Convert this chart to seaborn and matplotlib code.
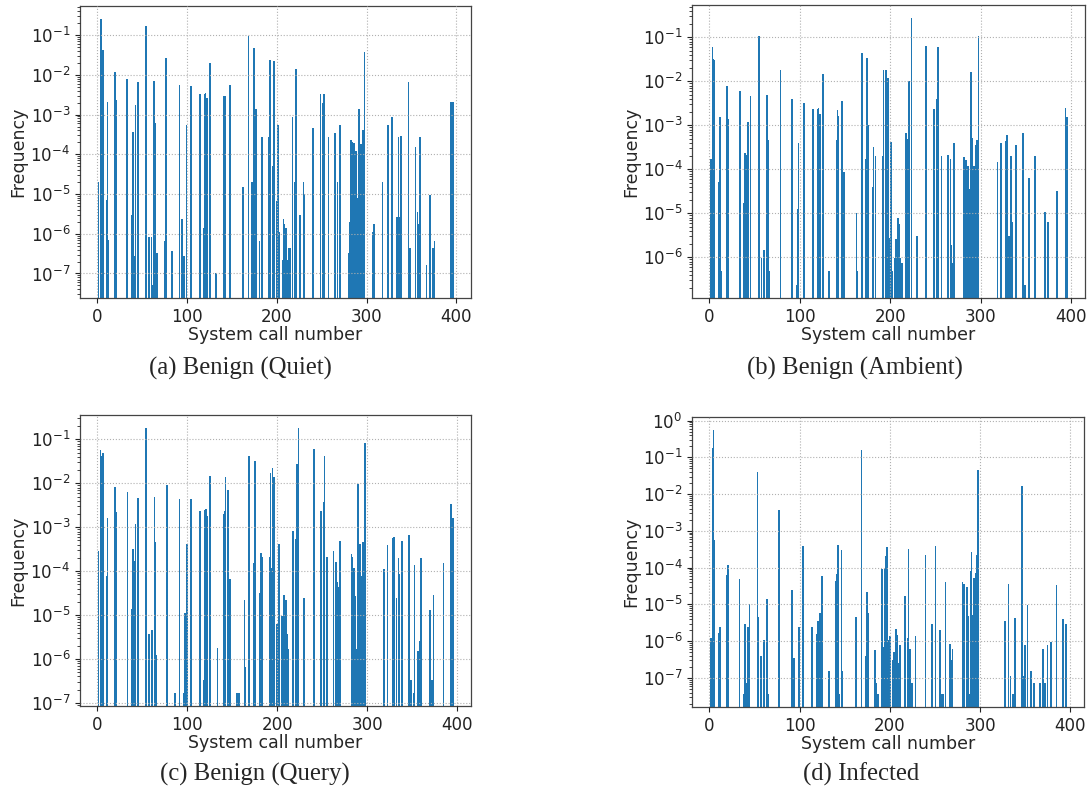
import pandas as pd
import seaborn as sns
import matplotlib.pyplot as plt

# (system call number, frequency)
quiet = [(1, 2e-5), (3, 0.11), (4, 0.25), (5, 0.019), (6, 0.042), (10, 7e-6), (11, 2.1e-3), (12, 7e-7),
         (19, 0.0115), (20, 2.3e-3), (33, 8e-3), (38, 3e-6), (39, 3.7e-4), (41, 2.7e-7), (42, 1.7e-3),
         (45, 6.5e-3), (54, 0.17), (57, 8.5e-7), (60, 8.5e-7), (61, 5.2e-8), (63, 6.9e-3), (64, 6.3e-4),
         (65, 1e-7), (66, 3.3e-7), (75, 6.5e-7), (76, 0.026), (83, 3.6e-7), (91, 5.5e-3), (94, 2.3e-6),
         (96, 2.7e-7), (99, 5.6e-4), (104, 5.2e-3), (114, 3.2e-3), (118, 1.4e-6), (119, 3.2e-3),
         (120, 3.4e-3), (122, 2.6e-3), (125, 0.0196), (132, 1e-7), (140, 5.9e-4), (141, 3e-3), (142, 3e-3),
         (147, 5.4e-3), (162, 1.5e-5), (168, 0.095), (172, 2e-5), (174, 0.048), (176, 1.4e-3), (180, 6.5e-7),
         (183, 2.8e-4), (191, 2.8e-4), (192, 0.023), (195, 5e-5), (196, 0.022), (197, 0.0147), (199, 6.5e-6),
         (200, 8.7e-7), (201, 5.6e-4), (202, 1.1e-6), (206, 2.2e-7), (207, 2.3e-6), (208, 1.8e-6),
         (209, 2.2e-7), (210, 1.4e-6), (211, 2.2e-7), (213, 4.3e-7), (214, 4.3e-7), (217, 8.7e-4),
         (220, 2e-5), (221, 0.014), (225, 3e-6), (229, 2e-5), (230, 1e-5), (240, 4.7e-4), (248, 3.2e-3),
         (251, 2e-3), (252, 3.2e-3), (257, 2.8e-4), (264, 3.5e-4), (267, 2e-5), (270, 5.6e-4),
         (280, 3.3e-7), (281, 2e-6), (282, 2.3e-4), (283, 2e-4), (284, 1.6e-7), (285, 1.9e-4), (286, 1.4e-5),
         (287, 4.3e-7), (288, 1.2e-4), (289, 8e-6), (291, 1.4e-3), (292, 3.2e-6), (293, 1.8e-4),
         (294, 1.25e-4), (295, 4e-4), (297, 0.037), (306, 1.1e-6), (307, 1.1e-6), (308, 1.75e-6),
         (317, 2e-5), (323, 5.6e-4), (327, 5.6e-4), (328, 8.5e-4), (333, 2.6e-6), (335, 2.8e-4),
         (336, 2.6e-6), (338, 2.9e-4), (346, 6.5e-3), (348, 4.3e-7), (354, 1.5e-4), (356, 3.5e-6),
         (358, 1.8e-6), (359, 2.8e-4), (366, 1.6e-7), (370, 9.5e-6), (373, 4.3e-7), (375, 6.5e-7),
         (393, 2.1e-3), (396, 2.1e-3)]

ambient = [(1, 1.7e-4), (3, 0.059), (4, 0.033), (5, 0.030), (10, 5.2e-5), (11, 1.55e-3), (12, 4.8e-7),
           (19, 7.9e-3), (20, 1.4e-3), (33, 5.9e-3), (38, 1.7e-5), (39, 2.3e-4), (41, 2.1e-4), (42, 1.2e-3),
           (45, 4.7e-3), (54, 0.105), (57, 9.6e-7), (60, 1.45e-6), (63, 5e-3), (64, 4.6e-4), (65, 4.8e-7),
           (66, 2.4e-7), (78, 0.0177), (91, 4e-3), (96, 2.4e-7), (97, 1.26e-5), (98, 4e-4), (104, 3.3e-3),
           (114, 2.4e-3), (119, 2.4e-3), (120, 2.5e-3), (122, 1.8e-3), (125, 0.0144), (132, 4.8e-7),
           (140, 4.6e-4), (141, 2.2e-3), (142, 1.65e-3), (146, 3.6e-3), (147, 4.8e-7), (148, 8.8e-5),
           (162, 1e-5), (163, 4.8e-7), (168, 0.044), (172, 1.7e-4), (173, 9.6e-7), (174, 0.034), (175, 1e-3),
           (180, 4e-5), (181, 3.2e-4), (183, 2e-4), (191, 2e-4), (192, 0.0177), (194, 8.8e-5), (195, 0.0177),
           (196, 4.6e-4), (197, 0.0117), (199, 2.8e-6), (200, 4.2e-4), (201, 4.8e-7), (205, 9.6e-7),
           (206, 2.6e-6), (208, 7.9e-6), (209, 5.8e-6), (210, 9.6e-7), (212, 7.4e-7), (213, 7.4e-7),
           (217, 6.7e-4), (219, 4.9e-4), (220, 0.0104), (223, 0.27), (229, 3e-6), (239, 0.063),
           (248, 2.4e-3), (251, 4e-3), (252, 0.060), (256, 2e-4), (263, 2.1e-4), (266, 1.7e-4),
           (267, 1.9e-6), (268, 7.4e-7), (270, 4e-4), (281, 1.9e-4), (282, 8.3e-6), (283, 1.6e-4),
           (285, 1.2e-4), (286, 3.6e-5), (288, 4.8e-7), (289, 0.016), (290, 5.1e-4), (291, 9.5e-5),
           (292, 1.2e-4), (293, 5.9e-5), (294, 3.6e-4), (295, 4.6e-4), (297, 0.11), (318, 1.5e-4),
           (322, 4e-4), (327, 4.4e-4), (328, 6e-4), (331, 3e-6), (333, 2e-4), (334, 6.4e-6), (338, 3.6e-4),
           (346, 6.7e-4), (348, 2.4e-7), (353, 6.5e-5), (359, 2e-4), (370, 1.1e-5), (373, 2.4e-7),
           (374, 6.4e-6), (384, 3.3e-5), (393, 2.5e-3), (395, 1.55e-3)]

query = [(1, 2.9e-4), (3, 0.059), (4, 0.043), (5, 0.039), (6, 0.048), (10, 7.7e-5), (11, 1.6e-3),
         (19, 8.3e-3), (20, 2.2e-3), (33, 6.4e-3), (38, 1.4e-5), (39, 3.2e-4), (41, 1.7e-4), (42, 1.2e-3),
         (45, 4.7e-3), (54, 0.18), (57, 3.8e-6), (60, 4.5e-6), (63, 4.9e-3), (64, 4.6e-4), (65, 1.2e-6),
         (77, 9.3e-3), (86, 1.7e-7), (91, 4.3e-3), (96, 1.7e-7), (97, 1.1e-5), (99, 4.2e-4), (104, 4.5e-3),
         (114, 2.4e-3), (118, 3.4e-7), (119, 2.5e-3), (120, 2.6e-3), (122, 1.8e-3), (125, 0.015),
         (133, 1.8e-6), (140, 2e-3), (141, 2.4e-3), (142, 0.014), (145, 7.1e-3), (146, 1.8e-6),
         (147, 6.6e-5), (155, 1.7e-7), (157, 1.7e-7), (163, 2.2e-5), (164, 6.6e-7), (168, 0.041),
         (173, 1.5e-4), (174, 2.6e-6), (175, 0.033), (180, 3.1e-5), (181, 2.6e-4), (183, 2.1e-4),
         (191, 2.1e-4), (192, 0.0175), (193, 1.2e-4), (194, 0.022), (195, 4.9e-4), (196, 0.014),
         (199, 6.2e-6), (200, 1.8e-6), (201, 4.2e-4), (202, 1.8e-6), (204, 3.8e-6), (205, 9.3e-6),
         (207, 2.9e-5), (208, 3.8e-6), (209, 2.2e-5), (210, 3.8e-6), (212, 1.7e-6), (217, 8.3e-4),
         (220, 5.4e-4), (221, 0.027), (223, 0.18), (229, 2.5e-5), (240, 0.062), (248, 2.4e-3),
         (251, 3.8e-3), (252, 0.041), (255, 2.1e-4), (262, 2.9e-4), (265, 1.6e-4), (266, 5.6e-5),
         (267, 4.3e-5), (269, 4.9e-4), (282, 2.4e-4), (283, 2.1e-4), (285, 1.2e-4), (286, 2.7e-5),
         (288, 1.7e-6), (289, 0.0099), (290, 1e-5), (291, 4.2e-4), (292, 1.2e-4), (293, 7.7e-5),
         (294, 3.4e-4), (295, 4.6e-4), (297, 0.081), (318, 1.1e-4), (322, 4e-4), (328, 5.7e-4),
         (329, 6e-4), (332, 2.5e-5), (334, 2e-4), (335, 8.5e-5), (338, 4.9e-4), (346, 6.6e-4),
         (348, 3.4e-7), (351, 1.7e-7), (352, 1.4e-4), (356, 1.55e-6), (358, 2.6e-6), (359, 2e-4),
         (369, 1.3e-5), (371, 3.4e-7), (373, 2.8e-5), (384, 1.5e-4), (392, 3.4e-3), (395, 1.6e-3)]

infected = [(1, 1.2e-6), (3, 0.18), (4, 0.55), (5, 5.8e-4), (10, 1.7e-6), (11, 2.5e-6), (12, 7.5e-8),
            (19, 6.3e-5), (20, 1.2e-4), (33, 4.9e-5), (38, 3.7e-8), (39, 2.9e-6), (40, 7.5e-8), (42, 2.5e-6),
            (44, 1e-5), (53, 0.039), (54, 4.5e-6), (57, 3.9e-7), (60, 1.1e-6), (63, 1.4e-5), (65, 3.7e-8),
            (77, 3.8e-3), (91, 2.5e-5), (93, 3.4e-7), (99, 2.5e-6), (103, 4e-4), (113, 2.4e-6),
            (119, 1.55e-6), (120, 3.5e-6), (122, 5.8e-6), (124, 6e-5), (132, 1.5e-7), (140, 4.4e-5),
            (141, 6.8e-5), (142, 4.2e-4), (143, 3.7e-8), (146, 3.1e-4), (147, 1.5e-7), (162, 4.5e-6),
            (168, 0.16), (173, 3.9e-7), (174, 2.2e-5), (175, 5.8e-6), (183, 5.6e-7), (184, 7.5e-8),
            (186, 3.7e-8), (191, 9.3e-5), (193, 6.8e-7), (194, 1e-4), (195, 2.1e-4), (196, 3.7e-4),
            (198, 1.1e-6), (199, 3e-7), (200, 1.35e-6), (203, 3e-7), (204, 5e-7), (205, 3e-7), (206, 2.1e-6),
            (207, 2.6e-7), (208, 1.45e-6), (209, 2.6e-7), (210, 3.7e-8), (211, 7.7e-7), (216, 1.7e-5),
            (219, 1.2e-6), (220, 3.3e-4), (222, 6e-7), (224, 7.5e-8), (228, 1.35e-6), (239, 2.2e-4),
            (246, 2.9e-6), (250, 4e-4), (255, 2e-6), (256, 3.7e-8), (257, 3.7e-8), (259, 3.7e-8),
            (261, 4.1e-5), (266, 8.2e-7), (267, 3e-7), (269, 6e-7), (280, 4.1e-5), (281, 2.2e-7),
            (282, 3.6e-5), (285, 3e-5), (286, 4.8e-6), (288, 3.7e-8), (289, 8.1e-5), (290, 2.7e-4),
            (291, 5.1e-6), (292, 2.6e-5), (293, 5.2e-5), (295, 7.2e-5), (296, 2.2e-4), (297, 0.045),
            (327, 3.5e-6), (331, 3.6e-5), (333, 1.1e-7), (336, 3.7e-8), (338, 4.2e-6), (346, 0.017),
            (348, 1.1e-7), (349, 7.7e-7), (352, 9.6e-6), (356, 1.5e-7), (359, 7.5e-8), (366, 7.5e-8),
            (369, 6.3e-7), (371, 7.5e-8), (374, 7.7e-7), (378, 9.3e-7), (384, 3.4e-5), (391, 4e-6),
            (395, 2.9e-6)]

captions = ["(a) Benign (Quiet)", "(b) Benign (Ambient)", "(c) Benign (Query)", "(d) Infected"]

sns.set_style("ticks")
plt.rcParams["font.family"] = ["DejaVu Sans"]

fig = plt.figure(figsize=(10.91, 7.92), dpi=100)
boxes = [[0.0733, 0.6237, 0.3584, 0.3687],
         [0.6343, 0.6237, 0.3602, 0.3699],
         [0.0733, 0.1086, 0.3584, 0.3674],
         [0.6343, 0.1073, 0.3593, 0.3662]]
cap_pos = [(0.220, 0.535), (0.784, 0.535), (0.234, 0.022), (0.789, 0.022)]

for box, panel, cap, (cx, cy) in zip(boxes, [quiet, ambient, query, infected], captions, cap_pos):
    ax = fig.add_axes(box)
    df = pd.DataFrame(panel, columns=["call", "freq"])
    sns.barplot(data=df, x="call", y="freq", native_scale=True, color="#1f77b4",
                saturation=1, errorbar=None, width=0.8, ax=ax)
    for bar in ax.patches:
        bar.set_edgecolor("#1f77b4")
        bar.set_linewidth(0.4)
        bar.set_antialiased(False)
    ax.set_yscale("log")
    ax.relim()
    ax.autoscale_view()
    ax.set_xticks([0, 100, 200, 300, 400])
    ax.grid(True, which="major", ls=":", color="#b0b0b0", lw=0.8)
    ax.set_axisbelow(False)
    ax.tick_params(labelsize=12, direction="out", colors="#222222")
    ax.set_xlabel("System call number", fontsize=12.5, labelpad=0)
    ax.set_ylabel("Frequency", fontsize=12.5, labelpad=2)
    for s in ax.spines.values():
        s.set_color("#444444")
        s.set_linewidth(0.9)
    fig.text(cx, cy, cap, ha="center", va="center", fontsize=17.8,
             family=["Liberation Serif", "DejaVu Serif"])

fig.savefig("out.png", dpi=100)
